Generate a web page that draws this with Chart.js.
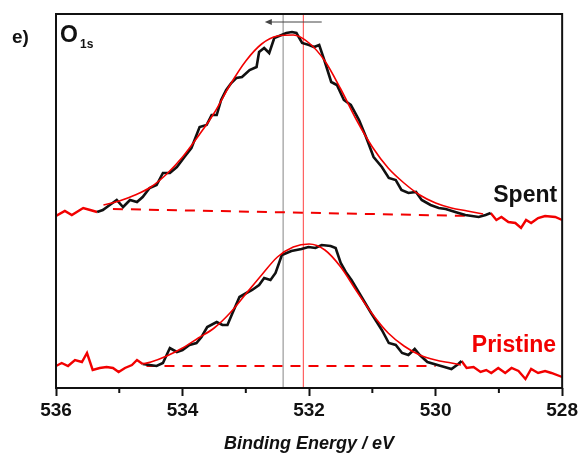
<!DOCTYPE html>
<html>
<head>
<meta charset="utf-8">
<script src="https://cdn.jsdelivr.net/npm/chart.js@4.4.1/dist/chart.umd.min.js"></script>
<style>
html,body{margin:0;padding:0;background:#fff;}
#wrap{width:581px;height:457px;position:relative;}
</style>
</head>
<body>
<div id="wrap"><canvas id="c" width="581" height="457"></canvas></div>
<script>
// ---------- data (binding energy in eV, intensity in arbitrary units) ----------
const xMajorTicks = [536, 534, 532, 530, 528];
const xTickLabels = ['536', '534', '532', '530', '528'];
const xMinorTicks = [535, 533, 531, 529];

// Spent: raw spectrum (black)
const spentE = [535.35,535.26,535.15,535.04,534.94,534.83,534.72,534.63,534.52,534.41,534.31,534.20,534.09,533.97,533.86,533.81,533.73,533.62,533.54,533.46,533.39,533.31,533.23,533.15,533.06,532.94,532.83,532.79,532.71,532.63,532.55,532.36,532.27,532.20,532.11,532.00,531.92,531.84,531.76,531.65,531.56,531.45,531.34,531.21,531.10,530.98,530.85,530.74,530.63,530.54,530.43,530.31,530.22,530.08,529.95,529.84,529.69,529.53,529.32,529.21,529.13];
const spentI = [176,178,183,188,181,188,186,191,200,203,215,215,221,231,240,248,261,263,273,273,288,298,305,310,311,318,321,336,340,335,350,355,356,355,345,343,341,343,328,306,303,288,283,268,251,231,221,210,208,198,195,196,188,183,180,179,176,173,171,173,175];
// Spent: spectrum outside fitting window (red)
const spentTailLeftE = [536.00,535.86,535.75,535.57,535.46,535.35];
const spentTailLeftI = [172,177,173,180,178,176];
const spentTailRightE = [529.13,529.04,528.96,528.85,528.74,528.65,528.57,528.49,528.38,528.27,528.11,528.00];
const spentTailRightI = [175,168,171,166,165,160,168,165,170,172,171,168];
// Spent: fit envelope and background
const spentFitE = [535.25,535.00,534.75,534.50,534.25,534.00,533.75,533.50,533.25,533.00,532.75,532.50,532.25,532.00,531.75,531.50,531.25,531.00,530.75,530.50,530.25,530.00,529.75,529.50,529.25];
const spentFitI = [183,187,193,201,214,231,252,275,303,327,344,352,353,345,327,299,268,241,220,205,193,185,180,177,174];
const spentBgE = [535.10, 529.40];
const spentBgI = [179, 172];

// Pristine: raw spectrum (black)
const pristineE = [534.63,534.52,534.41,534.31,534.20,534.09,534.00,533.89,533.78,533.70,533.61,533.46,533.37,533.29,533.21,533.10,532.99,532.90,532.79,532.71,532.61,532.53,532.43,532.28,532.12,532.01,531.90,531.80,531.66,531.58,531.50,531.42,531.33,531.17,531.02,530.85,530.74,530.63,530.53,530.43,530.33,530.25,530.13,529.97,529.86,529.75,529.64,529.59];
const pristineI = [24,23,22,25,40,36,38,43,45,51,61,66,63,63,75,91,95,98,103,110,108,115,133,137,139,141,140,143,142,140,125,116,108,91,75,58,45,43,35,33,39,33,26,23,21,19,24,27];
// Pristine: spectrum outside fitting window (red)
const pristineTailLeftE = [536.00,535.91,535.81,535.70,535.59,535.51,535.42,535.31,535.20,535.10,535.01,534.91,534.80,534.72,534.63];
const pristineTailLeftI = [22,25,22,28,26,35,18,20,21,20,16,20,23,28,24];
const pristineTailRightE = [529.59,529.51,529.40,529.29,529.20,529.12,529.01,528.90,528.80,528.69,528.58,528.49,528.38,528.27,528.17,528.00];
const pristineTailRightI = [27,20,21,16,18,15,20,15,20,17,9,19,15,17,15,11];
// Pristine: fit envelope and background
const pristineFitE = [534.63,534.50,534.25,534.00,533.75,533.50,533.25,533.00,532.75,532.50,532.25,532.00,531.75,531.50,531.25,531.00,530.75,530.50,530.25,530.00,529.75,529.60];
const pristineFitI = [24,26,32,40,50,60,75,94,113,131,141,144,138,121,97,74,55,42,33,28,25,23];
const pristineBgE = [534.57, 530.00];
const pristineBgI = [22, 22];

// O1s peak positions (Spent, Pristine) and shift arrow
const peakSpent = 532.41;
const peakPristine = 532.09;
const arrowFromE = 531.80;
const arrowToE = 532.70;
const arrowI = 366;

const yMin = 0, yMax = 374;

// ---------- helpers ----------
const pts = (xs, ys) => xs.map((x, i) => ({x: x, y: ys[i]}));
const line = (data, color, width, extra) => Object.assign({
  data: data, borderColor: color, borderWidth: width, pointRadius: 0,
  fill: false, tension: 0, backgroundColor: color
}, extra || {});

const RED = '#f20000';
const BLACK = '#111111';

const datasets = [
  line(pts(spentFitE, spentFitI), RED, 1.6, {cubicInterpolationMode: 'monotone'}),
  line(pts(pristineFitE, pristineFitI), RED, 1.6, {cubicInterpolationMode: 'monotone'}),
  line(pts(spentE, spentI), BLACK, 2.6),
  line(pts(pristineE, pristineI), BLACK, 2.6),
  line(pts(spentTailLeftE, spentTailLeftI), RED, 2.4),
  line(pts(spentTailRightE, spentTailRightI), RED, 2.4),
  line(pts(pristineTailLeftE, pristineTailLeftI), RED, 2.4),
  line(pts(pristineTailRightE, pristineTailRightI), RED, 2.4),
  line(pts(spentBgE, spentBgI), RED, 2, {borderDash: [10, 8]}),
  line(pts(pristineBgE, pristineBgI), RED, 2, {borderDash: [10, 8]}),
  line([{x: peakSpent, y: yMin}, {x: peakSpent, y: yMax}], '#9a9a9a', 1.2),
  line([{x: peakPristine, y: yMin}, {x: peakPristine, y: yMax}], '#ff6060', 1.2)
];

const decor = {
  id: 'decor',
  afterDraw(chart) {
    const ctx = chart.ctx, a = chart.chartArea;
    const xs = chart.scales.x, ys = chart.scales.y;
    ctx.save();
    // frame
    ctx.strokeStyle = BLACK; ctx.lineWidth = 2;
    ctx.strokeRect(a.left, a.top, a.right - a.left, a.bottom - a.top);
    // minor ticks
    ctx.lineWidth = 2;
    xMinorTicks.forEach(v => {
      const px = xs.getPixelForValue(v);
      ctx.beginPath(); ctx.moveTo(px, a.bottom); ctx.lineTo(px, a.bottom + 5); ctx.stroke();
    });
    // arrow
    const x1 = xs.getPixelForValue(arrowFromE), x2 = xs.getPixelForValue(arrowToE), y = ys.getPixelForValue(arrowI);
    ctx.strokeStyle = '#444'; ctx.fillStyle = '#444'; ctx.lineWidth = 1;
    ctx.beginPath(); ctx.moveTo(x1, y); ctx.lineTo(x2 + 5, y); ctx.stroke();
    ctx.beginPath(); ctx.moveTo(x2, y); ctx.lineTo(x2 + 7, y - 3); ctx.lineTo(x2 + 7, y + 3); ctx.closePath(); ctx.fill();
    // texts
    ctx.textBaseline = 'alphabetic';
    ctx.fillStyle = BLACK;
    ctx.textAlign = 'left';
    ctx.font = 'bold 19px "Liberation Sans", Arial, sans-serif';
    ctx.fillText('e)', 12, 43);
    ctx.font = 'bold 23px "Liberation Sans", Arial, sans-serif';
    ctx.fillText('O', a.left + 4, 42);
    ctx.font = 'bold 12px "Liberation Sans", Arial, sans-serif';
    ctx.fillText('1s', a.left + 24, 48);
    ctx.textAlign = 'right';
    ctx.font = 'bold 23px "Liberation Sans", Arial, sans-serif';
    ctx.fillText('Spent', a.right - 5, 202);
    ctx.fillStyle = RED;
    ctx.fillText('Pristine', a.right - 6, 352);
    ctx.restore();
  }
};

new Chart(document.getElementById('c'), {
  type: 'line',
  data: {datasets: datasets},
  options: {
    responsive: false,
    animation: false,
    events: [],
    layout: {padding: {left: 56, right: 17, top: 14, bottom: 0}},
    plugins: {legend: {display: false}, tooltip: {enabled: false}},
    scales: {
      x: {
        type: 'linear', reverse: true, min: 528, max: 536,
        afterFit: (s) => { s.height = 69; },
        border: {display: false},
        grid: {
          display: true, drawOnChartArea: false, drawTicks: true, tickLength: 8, tickWidth: 2,
          tickColor: (c) => (c.tick && xMajorTicks.includes(c.tick.value)) ? BLACK : 'rgba(0,0,0,0)'
        },
        ticks: {
          stepSize: 1, autoSkip: false, maxRotation: 0, padding: 3, color: BLACK,
          font: {family: '"Liberation Sans", Arial, sans-serif', size: 19, weight: 'bold'},
          callback: (v) => { const i = xMajorTicks.indexOf(v); return i >= 0 ? xTickLabels[i] : ''; }
        },
        title: {
          display: true, text: 'Binding Energy / eV', color: BLACK,
          font: {family: '"Liberation Sans", Arial, sans-serif', size: 18, weight: 'bold', style: 'italic'},
          padding: {top: 4, bottom: 2}
        }
      },
      y: {type: 'linear', min: yMin, max: yMax, display: false}
    }
  },
  plugins: [decor]
});
</script>
</body>
</html>
